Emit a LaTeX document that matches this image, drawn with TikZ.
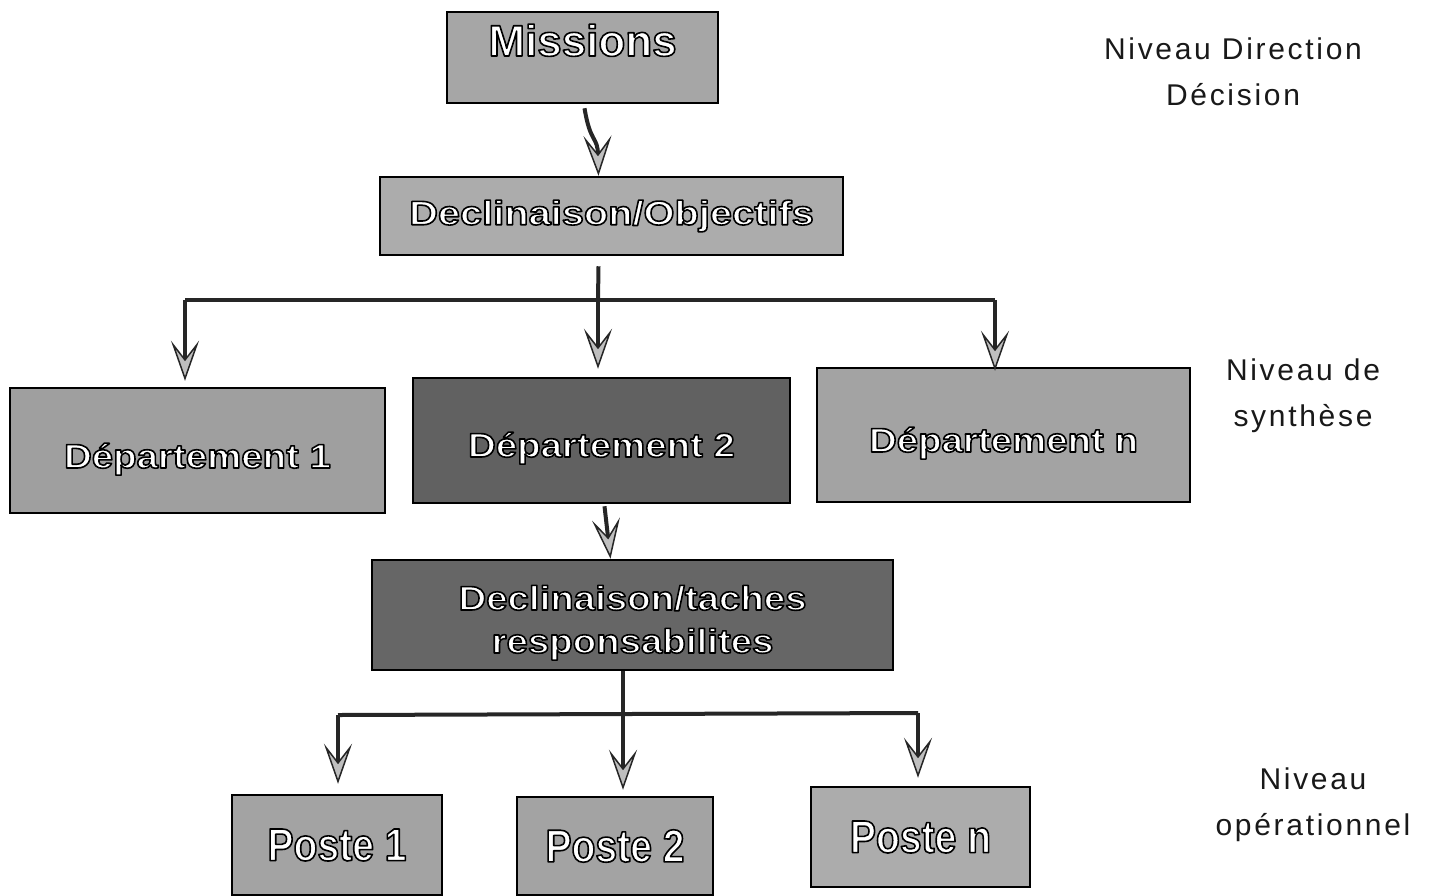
\documentclass[tikz,border=0pt]{standalone}
\usepackage{fontspec}
\setmainfont{Liberation Sans}
\usetikzlibrary{arrows.meta,calc}
\newcommand{\outl}[1]{{\color{white}\special{pdf:literal direct 2 Tr 1.6 w 0 G 1 j}#1\special{pdf:literal direct 0 Tr}}}
\newcommand{\boxtxt}[3]{{\fontsize{#1}{#1}\selectfont\bfseries\addfontfeature{FakeStretch=#2}\outl{#3}}}
\tikzset{
  x=1pt,y=-1pt,
  gbox/.style={draw=black,line width=2.5pt,inner sep=0pt,align=center},
  conn/.style={line width=4pt,draw=black!85},
  arr/.style={conn,-{Stealth[length=40pt,width=28pt,inset=18pt,line width=1.5pt,fill=gray!50]}},
  lvl/.style={align=center,font=\fontsize{30}{46}\selectfont\addfontfeature{LetterSpace=9},text=black!90}
}
\begin{document}
\begin{tikzpicture}
\useasboundingbox[fill=white] (0,0) rectangle (1450,895);
% boxes
\node[gbox,fill=gray!70,minimum width=271pt,minimum height=91pt,text height=0pt,text depth=3pt] (miss) at (582.5,57.5) {\boxtxt{44pt}{1.0}{Missions}};
\node[gbox,fill=gray!65,minimum width=463pt,minimum height=78pt] (dobj) at (611.5,216) {\boxtxt{34pt}{1.17}{Declinaison/Objectifs}};
\node[gbox,fill=gray!75,minimum width=375pt,minimum height=125pt,text height=35pt,text depth=0pt] (d1) at (197.5,450.5) {\boxtxt{34pt}{1.13}{Département 1}};
\node[gbox,fill=black!62,minimum width=377pt,minimum height=125pt,text height=33pt,text depth=0pt] (d2) at (601.5,440.5) {\boxtxt{34pt}{1.13}{Département 2}};
\node[gbox,fill=gray!72,minimum width=373pt,minimum height=134pt,text height=34pt,text depth=0pt] (dn) at (1003.5,435) {\boxtxt{34pt}{1.13}{Département n}};
\node[gbox,fill=black!60,minimum width=521pt,minimum height=110pt,text height=76pt,text depth=0pt,font=\fontsize{34}{43}\selectfont] (dt) at (632.5,615) {\boxtxt{34pt}{1.13}{Declinaison/taches}\\\boxtxt{34pt}{1.13}{responsabilites}};
\node[gbox,fill=gray!72,minimum width=210pt,minimum height=100pt] (p1) at (337,845) {\boxtxt{46pt}{0.85}{Poste 1}};
\node[gbox,fill=gray!72,minimum width=196pt,minimum height=98pt] (p2) at (615,846) {\boxtxt{46pt}{0.85}{Poste 2}};
\node[gbox,fill=gray!65,minimum width=219pt,minimum height=100pt] (pn) at (920.5,837) {\boxtxt{46pt}{0.85}{Poste n}};
% level labels
\node[lvl] (l1) at (1233,72) {Niveau Direction\\Décision};
\node[lvl] (l2) at (1303,396) {Niveau de\\synthèse};
\node[lvl] (l3) at (1313,805) {Niveau\\opérationnel};
% connectors
\draw[arr] ($(miss.south)+(2,4)$) .. controls ($(miss.south)+(8,40)$) and ($(dobj.north)+(-14,-40)$) .. ($(dobj.north)+(-13,0)$);
\coordinate (j1) at (598,300);
\coordinate (h1L) at (185,300);
\coordinate (h1R) at (995,300);
\draw[conn] ($(dobj.south)+(-13,10)$) -- (j1);
\draw[conn] (h1L) -- (h1R);
\draw[arr,shorten >=6pt] (h1L) -- (h1L |- d1.north);
\draw[arr,shorten >=8pt] (j1) -- (j1 |- d2.north);
\draw[arr,shorten >=-4pt] (h1R) -- (h1R |- dn.north);
\draw[arr] ($(d2.south)+(3,2)$) -- ($(dt.north)+(-22,0)$);
\coordinate (j2) at (623,714);
\coordinate (h2L) at (338,715);
\coordinate (h2R) at (918,713);
\draw[conn] ($(dt.south)+(-9.5,0)$) -- (j2);
\draw[conn] (h2L) -- (h2R);
\draw[arr,shorten >=10pt] (h2L) -- (h2L |- p1.north);
\draw[arr,shorten >=6pt] (j2) -- (j2 |- p2.north);
\draw[arr,shorten >=8pt] (h2R) -- (h2R |- pn.north);
\end{tikzpicture}
\end{document}
